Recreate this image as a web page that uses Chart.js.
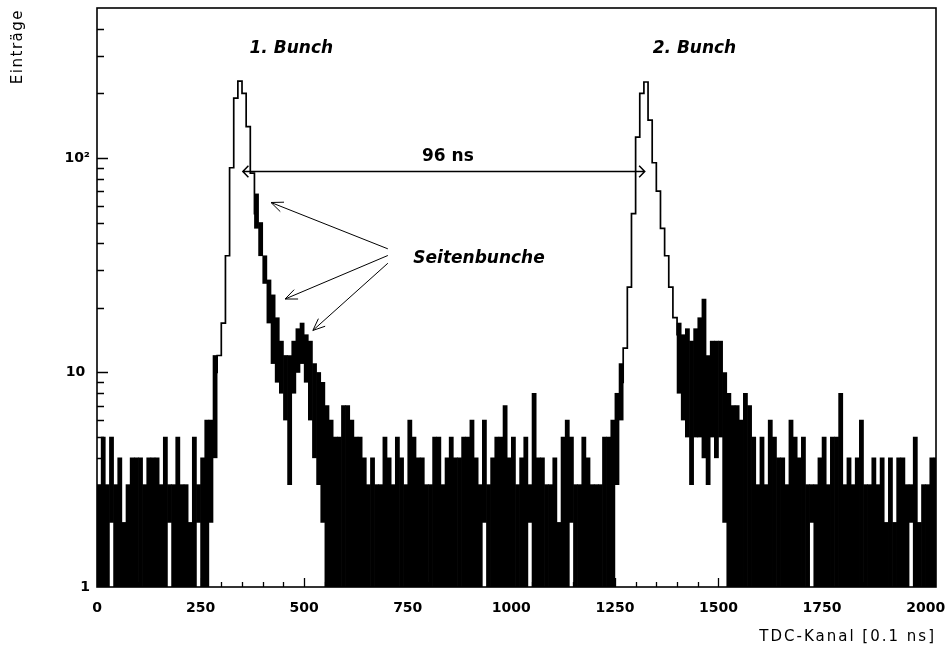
<!DOCTYPE html>
<html lang="de">
<head>
<meta charset="UTF-8">
<title>TDC-Spektrum: 1. und 2. Bunch</title>
<script src="https://cdn.jsdelivr.net/npm/chart.js"></script>
<style>
  html, body { margin: 0; padding: 0; background: #fff; }
  canvas { display: block; }
</style>
</head>
<body>
<canvas id="tdcChart" width="951" height="649"></canvas>
<script>
// TDC spectrum, 10 channels per bin.
// Noisy parts: lowest and highest entry the histogram line reaches in each bin
// (null where the thin peak outline below takes over).
var binWidth = 10;
var binLow = [
  1, 1, 1, 2, 1, 1, 1, 1, 1, 1,
  1, 1, 1, 1, 1, 1, 1, 2, 1, 1,
  1, 1, 1, 1, 2, 1, 1, 2, 4, null,
  null, null, null, null, null, null, null, null, 47, 35,
  26, 17, 11, 9, 8, 6, 3, 8, 10, 11,
  9, 6, 4, 3, 2, 1, 1, 1, 1, 1,
  1, 1, 1, 1, 1, 1, 1, 1, 1, 1,
  1, 1, 1, 1, 1, 1, 1, 1, 1, 1,
  1, 1, 1, 1, 1, 1, 1, 1, 1, 1,
  1, 1, 1, 2, 1, 1, 1, 1, 1, 1,
  1, 1, 1, 1, 2, 1, 1, 1, 1, 1,
  1, 1, 1, 1, 2, 1, 1, 1, 1, 1,
  1, 1, 1, 1, 1, 3, 6, null, null, null,
  null, null, null, null, null, null, null, null, null, null,
  8, 6, 5, 3, 5, 5, 4, 3, 5, 4,
  5, 2, 1, 1, 1, 1, 1, 1, 1, 1,
  1, 1, 1, 1, 1, 1, 1, 1, 1, 1,
  1, 1, 2, 1, 1, 1, 1, 1, 1, 1,
  1, 1, 1, 1, 1, 1, 1, 1, 1, 1,
  1, 1, 1, 1, 1, 1, 2, 1, 1, 1,
  1, 1, 1
];
var binHigh = [
  3, 5, 3, 5, 3, 4, 2, 3, 4, 4,
  4, 3, 4, 4, 4, 3, 5, 3, 3, 5,
  3, 3, 2, 5, 3, 4, 6, 6, 12, null,
  null, null, null, null, null, null, null, null, 68, 50,
  35, 27, 23, 18, 14, 12, 12, 14, 16, 17,
  15, 14, 11, 10, 9, 7, 6, 5, 5, 7,
  7, 6, 5, 5, 4, 3, 4, 3, 3, 5,
  4, 3, 5, 4, 3, 6, 5, 4, 4, 3,
  3, 5, 5, 3, 4, 5, 4, 4, 5, 5,
  6, 4, 3, 6, 3, 4, 5, 5, 7, 4,
  5, 3, 4, 5, 3, 8, 4, 4, 3, 3,
  4, 2, 5, 6, 5, 3, 3, 5, 4, 3,
  3, 3, 5, 5, 6, 8, 11, null, null, null,
  null, null, null, null, null, null, null, null, null, null,
  17, 15, 16, 14, 16, 18, 22, 12, 14, 14,
  14, 10, 8, 7, 7, 6, 8, 7, 5, 3,
  5, 3, 6, 5, 4, 4, 3, 6, 5, 4,
  5, 3, 3, 3, 4, 5, 3, 5, 5, 8,
  3, 4, 3, 4, 6, 3, 3, 4, 3, 4,
  2, 4, 2, 4, 4, 3, 3, 5, 2, 3,
  3, 4, 4
];

// Thin outline of the two main peaks, entries per bin
var peakOneFirstBin = 28;
var peakOneContent = [10, 12, 17, 35, 90, 190, 228, 200, 140, 85, 55];
var peakTwoFirstBin = 126;
var peakTwoContent = [9, 13, 25, 55, 125, 200, 226, 150, 95, 70, 47, 35, 25, 18, 15];

var xTickValues = [0, 250, 500, 750, 1000, 1250, 1500, 1750, 2000];
var yTickValues = [1, 10, 100];
var yTickLabels = ['1', '10 ', '10\u00b2'];
var yMinorTicks = [2, 3, 4, 5, 6, 7, 8, 9, 20, 30, 40, 50, 60, 70, 80, 90, 200, 300, 400];

// annotations, in data coordinates (channel, entries)
var bunchNotes = [
  { text: '1. Bunch', ch: 469, val: 325 },
  { text: '2. Bunch', ch: 1442, val: 325 }
];
var spacingNote = { text: '96 ns', ch: 847, val: 102, from: 352, to: 1322, arrowVal: 87 };
var sideNote = { text: 'Seitenbunche', ch: 922, val: 34 };
var sideArrows = [
  { fromCh: 702, fromVal: 37.7, toCh: 420, toVal: 62 },
  { fromCh: 702, fromVal: 35.1, toCh: 454, toVal: 22 },
  { fromCh: 702, fromVal: 32.3, toCh: 521, toVal: 15.7 }
];

function binCentre(i) { return i * binWidth + binWidth / 2; }

var noiseData = [];
binHigh.forEach(function (hi, i) {
  if (hi !== null) noiseData.push({ x: binCentre(i), y: [binLow[i], hi] });
});
function peakPoints(first, content) {
  return content.map(function (v, k) { return { x: binCentre(first + k), y: v }; });
}

function arrowHead(ctx, x0, y0, x1, y1, len, spread) {
  var a = Math.atan2(y1 - y0, x1 - x0);
  ctx.moveTo(x1 - len * Math.cos(a - spread), y1 - len * Math.sin(a - spread));
  ctx.lineTo(x1, y1);
  ctx.lineTo(x1 - len * Math.cos(a + spread), y1 - len * Math.sin(a + spread));
}

var frameAndNotes = {
  id: 'frameAndNotes',
  afterDatasetsDraw: function (chart) {
    var ctx = chart.ctx, area = chart.chartArea;
    var xs = chart.scales.x, ys = chart.scales.y;
    ctx.save();
    ctx.strokeStyle = '#000';
    ctx.fillStyle = '#000';

    // ticks pointing into the plot
    ctx.lineWidth = 1.3;
    ctx.beginPath();
    yMinorTicks.concat([10, 100]).forEach(function (v) {
      var y = Math.round(ys.getPixelForValue(v)) + 0.5;
      var len = yTickValues.indexOf(v) >= 0 ? 11 : 7;
      ctx.moveTo(area.left, y);
      ctx.lineTo(area.left + len, y);
    });
    for (var c = 50; c < xs.max; c += 50) {
      var x = Math.round(xs.getPixelForValue(c)) + 0.5;
      var len2 = xTickValues.indexOf(c) >= 0 ? 9 : 5;
      ctx.moveTo(x, area.bottom);
      ctx.lineTo(x, area.bottom - len2);
    }
    ctx.stroke();

    // frame
    ctx.lineWidth = 1.6;
    ctx.strokeRect(area.left, area.top, area.right - area.left, area.bottom - area.top);

    // axis titles
    ctx.font = '15px "DejaVu Sans"';
    ctx.letterSpacing = '1.5px';
    ctx.textBaseline = 'middle';
    ctx.textAlign = 'right';
    ctx.save();
    ctx.translate(18, 9);
    ctx.rotate(-Math.PI / 2);
    ctx.fillText('Einträge', 0, 0);
    ctx.restore();
    ctx.letterSpacing = '2px';
    ctx.fillText('TDC-Kanal [0.1 ns]', area.right, 637);
    ctx.letterSpacing = '0px';

    // bunch labels
    ctx.textAlign = 'center';
    ctx.font = 'italic bold 17px "DejaVu Sans"';
    bunchNotes.forEach(function (n) {
      ctx.fillText(n.text, xs.getPixelForValue(n.ch), ys.getPixelForValue(n.val));
    });

    // 96 ns double arrow
    ctx.font = 'bold 17px "DejaVu Sans"';
    ctx.fillText(spacingNote.text, xs.getPixelForValue(spacingNote.ch), ys.getPixelForValue(spacingNote.val));
    var ay = Math.round(ys.getPixelForValue(spacingNote.arrowVal)) + 0.5;
    var ax0 = xs.getPixelForValue(spacingNote.from), ax1 = xs.getPixelForValue(spacingNote.to);
    ctx.lineWidth = 1.5;
    ctx.beginPath();
    ctx.moveTo(ax0, ay);
    ctx.lineTo(ax1, ay);
    arrowHead(ctx, ax1, ay, ax0, ay, 8, 0.8);
    arrowHead(ctx, ax0, ay, ax1, ay, 8, 0.8);
    ctx.stroke();

    // side bunch label and arrows
    ctx.font = 'italic bold 17px "DejaVu Sans"';
    ctx.fillText(sideNote.text, xs.getPixelForValue(sideNote.ch), ys.getPixelForValue(sideNote.val));
    ctx.lineWidth = 1;
    ctx.beginPath();
    sideArrows.forEach(function (a) {
      var x0 = xs.getPixelForValue(a.fromCh), y0 = ys.getPixelForValue(a.fromVal);
      var x1 = xs.getPixelForValue(a.toCh), y1 = ys.getPixelForValue(a.toVal);
      ctx.moveTo(x0, y0);
      ctx.lineTo(x1, y1);
      arrowHead(ctx, x0, y0, x1, y1, 13, 0.4);
    });
    ctx.stroke();
    ctx.restore();
  }
};

function noPadding(scale) {
  scale.paddingTop = 0;
  scale.paddingBottom = 0;
  scale.paddingLeft = 0;
  scale.paddingRight = 0;
}

var peakLine = {
  type: 'line',
  stepped: 'middle',
  borderColor: '#000',
  borderWidth: 1.7,
  pointRadius: 0,
  fill: false
};

Chart.defaults.font.family = '"DejaVu Sans", sans-serif';
Chart.defaults.color = '#000';

new Chart(document.getElementById('tdcChart'), {
  type: 'bar',
  data: {
    datasets: [
      Object.assign({ data: peakPoints(peakOneFirstBin, peakOneContent) }, peakLine),
      Object.assign({ data: peakPoints(peakTwoFirstBin, peakTwoContent) }, peakLine),
      {
        data: noiseData,
        backgroundColor: '#000',
        borderWidth: 0,
        barPercentage: 1,
        categoryPercentage: 1,
        grouped: false
      }
    ]
  },
  options: {
    responsive: false,
    animation: false,
    devicePixelRatio: 1,
    layout: { padding: { left: 0, right: 15, top: 8, bottom: 0 } },
    plugins: { legend: { display: false }, tooltip: { enabled: false } },
    scales: {
      x: {
        type: 'linear',
        min: 0,
        max: 2025,
        offset: false,
        grid: { display: false, drawTicks: false },
        border: { display: false },
        afterBuildTicks: function (scale) {
          scale.ticks = xTickValues.map(function (v) { return { value: v }; });
        },
        afterFit: function (scale) { scale.height = 62; noPadding(scale); },
        ticks: {
          autoSkip: false,
          maxRotation: 0,
          padding: 13,
          font: { size: 14, weight: 'bold' },
          callback: function (v) { return String(v); }
        }
      },
      y: {
        type: 'logarithmic',
        min: 1,
        max: 500,
        grid: { display: false, drawTicks: false },
        border: { display: false },
        afterBuildTicks: function (scale) {
          scale.ticks = yTickValues.map(function (v) { return { value: v }; });
        },
        afterFit: function (scale) { scale.width = 97; noPadding(scale); },
        ticks: {
          autoSkip: false,
          padding: 7,
          font: { size: 14, weight: 'bold' },
          callback: function (v) { return yTickLabels[yTickValues.indexOf(v)]; }
        }
      }
    }
  },
  plugins: [frameAndNotes]
});
</script>
</body>
</html>
